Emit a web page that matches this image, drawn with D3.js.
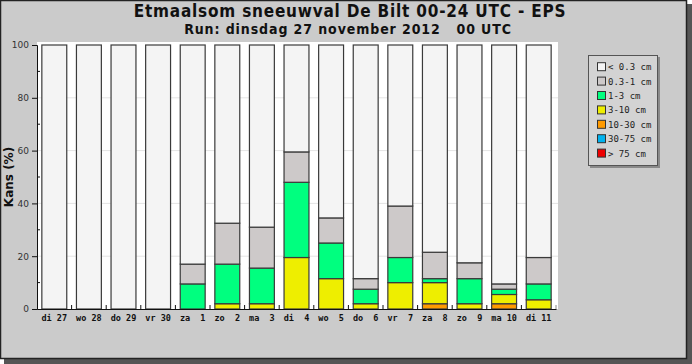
<!DOCTYPE html>
<html>
<head>
<meta charset="utf-8">
<script src="https://cdn.jsdelivr.net/npm/d3@7"></script>
<style>
  html, body { margin: 0; padding: 0; background: #ffffff; }
  svg { display: block; }
</style>
</head>
<body>
<svg id="chart" width="692" height="364"></svg>
<script>
// days of the forecast
const days = ["di 27","wo 28","do 29","vr 30","za  1","zo  2","ma  3","di  4","wo  5","do  6","vr  7","za  8","zo  9","ma 10","di 11"];

// chance (%) per snowfall class, stacked bottom-up from largest class
const gt75    = [0,0,0,0,0,0,0,0,0,0,0,0,0,0,0];
const r30_75  = [0,0,0,0,0,0,0,0,0,0,0,0,0,0,0];
const r10_30  = [0,0,0,0,0,0,0,0,0,0,0,2,0,2,0];
const r3_10   = [0,0,0,0,0,2,2,19.5,11.5,2,10,8,2,3.5,3.5];
const r1_3    = [0,0,0,0,9.5,15,13.5,28.5,13.5,5.5,9.5,1.5,9.5,2,6];
const r03_1   = [0,0,0,0,7.5,15.5,15.5,11.5,9.5,4,19.5,10,6,2,10];
const lt03    = [100,100,100,100,83,67.5,69,40.5,65.5,88.5,61,78.5,82.5,90.5,80.5];

const classes = ["< 0.3 cm","0.3-1 cm","1-3 cm","3-10 cm","10-30 cm","30-75 cm","> 75 cm"];
const colors  = ["#f4f4f4","#cdc9c9","#00ff7f","#eeee00","#ff9a00","#00b2ee","#ee0000"];
const yTicks  = [0,20,40,60,80,100];

// stack order bottom -> top
const series = [gt75, r30_75, r10_30, r3_10, r1_3, r03_1, lt03];
const seriesCls = [6,5,4,3,2,1,0];

const svg = d3.select('#chart');

// frame + shadow
svg.append('rect').attr('x',4).attr('y',4).attr('width',688).attr('height',360).attr('fill','#555555');
svg.append('rect').attr('x',0.5).attr('y',0.5).attr('width',686).attr('height',358)
   .attr('fill','#cbcbcb').attr('stroke','#222').attr('stroke-width',1.5);

// titles
svg.append('text').attr('x',350).attr('y',17).attr('text-anchor','middle')
   .style('font-family','"DejaVu Sans Condensed", "DejaVu Sans", sans-serif')
   .style('font-weight','bold').style('font-size','17px').style('letter-spacing','0.8px').attr('fill','#111')
   .text('Etmaalsom sneeuwval De Bilt 00-24 UTC - EPS');
svg.append('text').attr('x',348).attr('y',34).attr('text-anchor','middle')
   .style('font-family','"DejaVu Sans Condensed", "DejaVu Sans", sans-serif')
   .style('font-weight','bold').style('font-size','14px').style('letter-spacing','0.9px').attr('fill','#111')
   .attr('xml:space','preserve')
   .text('Run: dinsdag 27 november 2012   00 UTC');

const x0 = 37, x1 = 556, yTop = 45, yBot = 309;

let xscale = d3.scaleBand().domain(days).range([x0, x1]).paddingInner(0.28).paddingOuter(0.14);
let yscale = d3.scaleLinear().domain([0,100]).range([yBot, yTop]);

// plot background
svg.append('rect').attr('x',x0).attr('y',42).attr('width',x1 - x0 + 2).attr('height',yBot - 42).attr('fill','#ffffff');

// gridlines
svg.append('g').selectAll('line').data(yTicks.filter(d => d > 0 && d < 100)).enter().append('line')
   .attr('x1',x0).attr('x2',x1 + 2)
   .attr('y1',d => yscale(d)).attr('y2',d => yscale(d))
   .attr('stroke','#e4e4e4').attr('stroke-width',1);

// stacked bars
const stacked = [];
days.forEach(function(day, i){
  let base = 0;
  series.forEach(function(s, k){
    if (s[i] > 0) stacked.push({day: day, y0: base, y1: base + s[i], cls: seriesCls[k]});
    base += s[i];
  });
});

svg.append('g').attr('id','bars').selectAll('rect').data(stacked).enter().append('rect')
   .attr('x', d => xscale(d.day))
   .attr('width', xscale.bandwidth())
   .attr('y', d => yscale(d.y1))
   .attr('height', d => yscale(d.y0) - yscale(d.y1))
   .attr('fill', d => colors[d.cls])
   .attr('stroke','#3a3a3a').attr('stroke-width',1.2);

// y axis
let yAxis = d3.axisLeft(yscale).tickValues(yTicks).tickSize(5).tickPadding(3);
let y_xis = svg.append('g').attr('transform','translate(' + x0 + ',0)').call(yAxis);
y_xis.select('.domain').attr('stroke','#111');
y_xis.selectAll('.tick line').attr('stroke','#111');
y_xis.selectAll('text').style('font-family','"DejaVu Sans", sans-serif').style('font-size','9px').attr('fill','#333');

// minor ticks inside
svg.append('g').selectAll('line').data([10,30,50,70,90]).enter().append('line')
   .attr('x1',x0).attr('x2',x0 + 3)
   .attr('y1',d => yscale(d)).attr('y2',d => yscale(d))
   .attr('stroke','#111');

// x axis
let xAxis = d3.axisBottom(xscale).tickSize(0).tickPadding(6);
let x_xis = svg.append('g').attr('transform','translate(0,' + yBot + ')').call(xAxis);
x_xis.select('.domain').attr('stroke','#111').attr('stroke-width',1.2);
x_xis.selectAll('text').style('font-family','"DejaVu Sans Mono", monospace')
   .style('font-weight','bold').style('font-size','8.5px').attr('fill','#111')
   .attr('xml:space','preserve');

// tick marks between bars
const step = xscale.step();
svg.append('g').selectAll('line').data(days.slice(1).concat(['end'])).enter().append('line')
   .attr('x1', (d,i) => xscale(days[i]) + xscale.bandwidth() + (step - xscale.bandwidth())/2)
   .attr('x2', (d,i) => xscale(days[i]) + xscale.bandwidth() + (step - xscale.bandwidth())/2)
   .attr('y1', yBot - 4).attr('y2', yBot)
   .attr('stroke', (d,i) => i === days.length - 1 ? '#888' : '#111');

// y label
svg.append('text').attr('transform','translate(13,' + ((yTop + yBot)/2) + ') rotate(-90)')
   .attr('text-anchor','middle')
   .style('font-family','"DejaVu Sans", sans-serif').style('font-weight','bold').style('font-size','12px')
   .attr('fill','#111').text('Kans (%)');

// legend
const lg = svg.append('g').attr('transform','translate(588,55)');
lg.append('rect').attr('x',2).attr('y',2).attr('width',70).attr('height',111).attr('fill','#8a8a8a');
lg.append('rect').attr('x',0.5).attr('y',0.5).attr('width',69).attr('height',110)
  .attr('fill','#d3d3d3').attr('stroke','#555').attr('stroke-width',1);
const items = lg.selectAll('g.item').data(classes).enter().append('g')
  .attr('transform',(d,i) => 'translate(0,' + (11.7 + i*14.4) + ')');
items.append('rect').attr('x',9.5).attr('y',-4).attr('width',8).attr('height',8)
  .attr('fill',(d,i) => colors[i]).attr('stroke','#333');
items.append('text').attr('x',20).attr('y',3.5)
  .style('font-family','"DejaVu Sans Mono", monospace').style('font-size','9px').attr('fill','#222')
  .text(d => d);
</script>
</body>
</html>
